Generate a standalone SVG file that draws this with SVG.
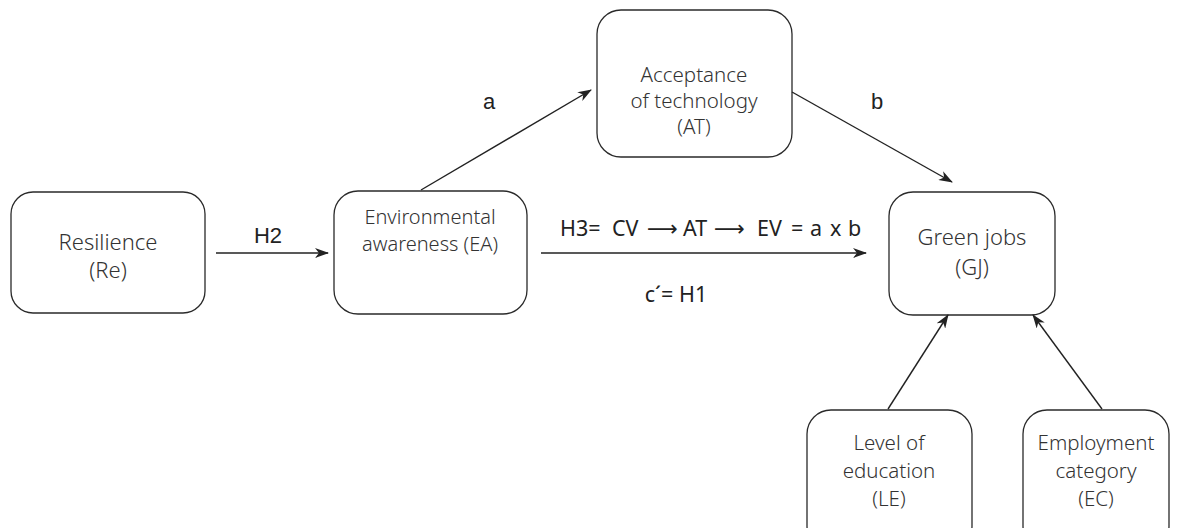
<svg xmlns="http://www.w3.org/2000/svg" width="1179" height="528" viewBox="0 0 1179 528">
<defs>
<style>
.box{fill:#fff;stroke:#2a2a2a;stroke-width:1.3}
.nt{font-family:"Noto Sans",Lato,sans-serif;font-weight:300;font-size:22px;fill:#333;text-anchor:middle}
.sm{font-size:20.5px}
.lb{font-family:"Liberation Sans",Arial,sans-serif;font-size:22px;fill:#222;text-anchor:middle}
.lv{font-family:"Noto Sans",Lato,sans-serif;font-size:21.5px;fill:#222}
.ar{font-family:"DejaVu Sans",sans-serif}
.ln{stroke:#222;stroke-width:1.4;fill:none;marker-end:url(#ah)}
</style>
<marker id="ah" markerWidth="14" markerHeight="10" refX="13" refY="5" orient="auto" markerUnits="userSpaceOnUse">
<path d="M0,0 L14,5 L0,10 L4,5 z" fill="#222"/>
</marker>
</defs>
<rect width="1179" height="528" fill="#fff"/>
<g id="re"><rect class="box" x="11" y="192" width="194" height="121" rx="22"/>
<text class="nt" x="108" y="250">Resilience</text><text class="nt" x="108" y="278">(Re)</text></g>
<g id="ea"><rect class="box" x="334" y="191" width="193" height="123" rx="24"/>
<text class="nt" x="430" y="224" style="font-size:20px">Environmental</text><text class="nt" x="430" y="251" style="font-size:20px">awareness (EA)</text></g>
<g id="at"><rect class="box" x="597" y="10" width="195" height="147" rx="24"/>
<text class="nt sm" x="694" y="82">Acceptance</text><text class="nt sm" x="694" y="108">of technology</text><text class="nt sm" x="694" y="134">(AT)</text></g>
<g id="gj"><rect class="box" x="889" y="192" width="166" height="123" rx="24"/>
<text class="nt" x="972" y="245">Green jobs</text><text class="nt" x="972" y="275">(GJ)</text></g>
<g id="le"><rect class="box" x="807" y="410" width="165" height="140" rx="24"/>
<text class="nt sm" x="889" y="450">Level of</text><text class="nt sm" x="889" y="478">education</text><text class="nt sm" x="889" y="506">(LE)</text></g>
<g id="ec"><rect class="box" x="1023" y="410" width="146" height="140" rx="24"/>
<text class="nt sm" x="1096" y="450">Employment</text><text class="nt sm" x="1096" y="478">category</text><text class="nt sm" x="1096" y="506">(EC)</text></g>
<g id="connectors">
<line class="ln" x1="216" y1="253" x2="328" y2="253"/>
<line class="ln" x1="421" y1="190" x2="591" y2="90"/>
<line class="ln" x1="792" y1="92" x2="952" y2="182"/>
<line class="ln" x1="541" y1="253" x2="866" y2="253"/>
<line class="ln" x1="888" y1="409" x2="948" y2="315"/>
<line class="ln" x1="1102" y1="409" x2="1033" y2="315"/>
</g>
<g id="labels">
<text class="lb" x="268" y="243">H2</text>
<text class="lb" x="489" y="109">a</text>
<text class="lb" x="877" y="109">b</text>
<text class="lv" y="236"><tspan x="560">H3=</tspan><tspan x="612">CV</tspan><tspan class="ar" x="647">⟶</tspan><tspan x="683">AT</tspan><tspan class="ar" x="714">⟶</tspan><tspan x="757">EV</tspan><tspan x="791">=</tspan><tspan x="810">a</tspan><tspan x="830">x</tspan><tspan x="848">b</tspan></text>
<text class="lv" x="676" y="302" text-anchor="middle">c´= H1</text>
</g>
</svg>
